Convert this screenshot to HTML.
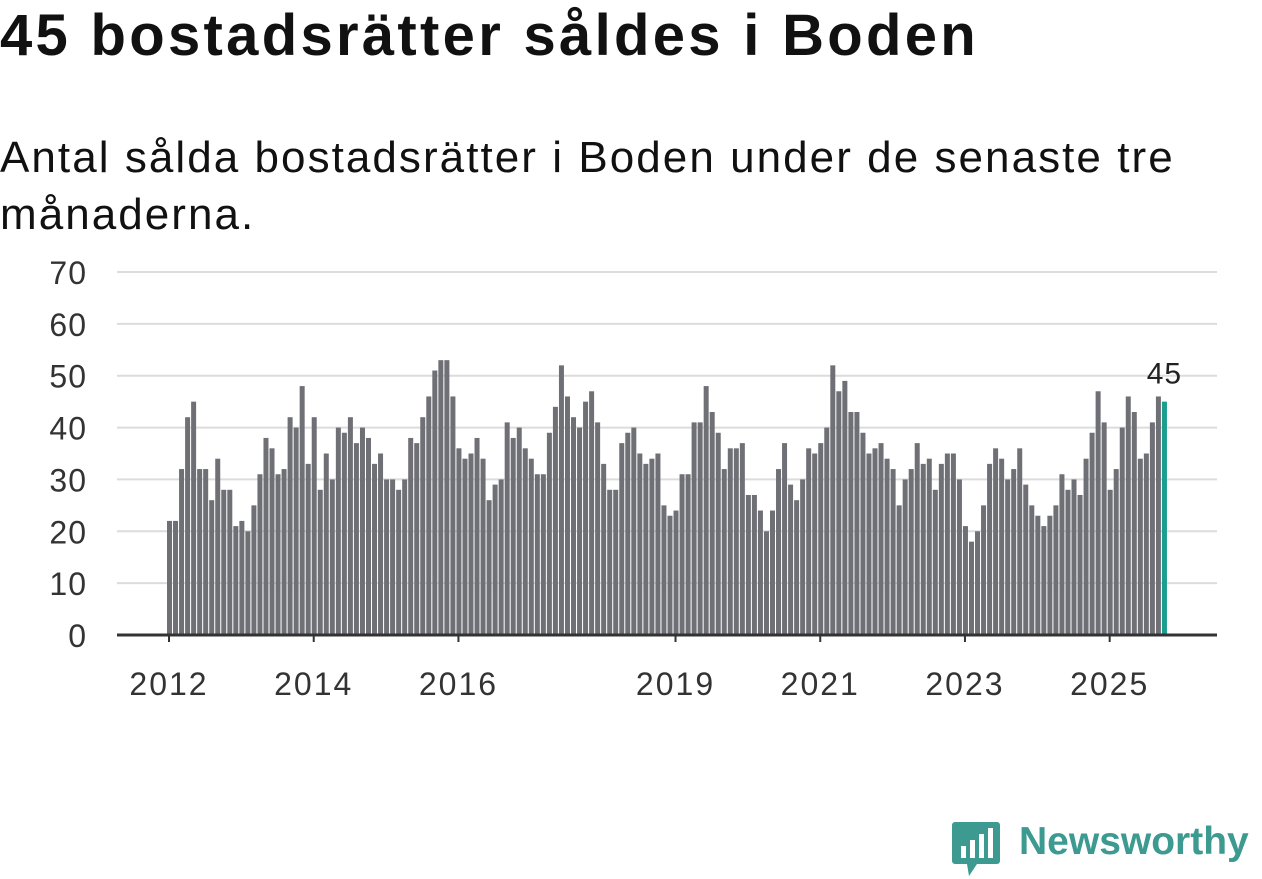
<!DOCTYPE html>
<html><head><meta charset="utf-8"><style>
body{margin:0;background:#fff;width:1262px;height:879px;overflow:hidden;font-family:"Liberation Sans",sans-serif;color:#111;}
h1{position:absolute;left:0;top:2px;margin:0;font-size:58px;font-weight:bold;letter-spacing:3.3px;white-space:nowrap;}
.sub{position:absolute;left:0;top:129px;margin:0;font-size:44px;line-height:57px;font-weight:normal;width:1220px;letter-spacing:2.05px;}
svg{position:absolute;left:0;top:0;}
</style></head><body>
<h1>45 bostadsrätter såldes i Boden</h1>
<p class="sub">Antal sålda bostadsrätter i Boden under de senaste tre månaderna.</p>
<svg id="chart" width="1262" height="879"></svg>
<script>
const values = [
22,22,32,42,45,32,32,26,34,28,28,21,
22,20,25,31,38,36,31,32,42,40,48,33,
42,28,35,30,40,39,42,37,40,38,33,35,
30,30,28,30,38,37,42,46,51,53,53,46,
36,34,35,38,34,26,29,30,41,38,40,36,
34,31,31,39,44,52,46,42,40,45,47,41,
33,28,28,37,39,40,35,33,34,35,25,23,
24,31,31,41,41,48,43,39,32,36,36,37,
27,27,24,20,24,32,37,29,26,30,36,35,
37,40,52,47,49,43,43,39,35,36,37,34,
32,25,30,32,37,33,34,28,33,35,35,30,
21,18,20,25,33,36,34,30,32,36,29,25,
23,21,23,25,31,28,30,27,34,39,47,41,
28,32,40,46,43,34,35,41,46,45];
const yTicks = [0,10,20,30,40,50,60,70];
const xLabels = [2012,2014,2016,2019,2021,2023,2025];
const startYear = 2012;
const NS="http://www.w3.org/2000/svg";
const svg=document.getElementById('chart');
const y=v=>635-v*(363/70);
const x=i=>167+i*6.03;
function mk(t,a){const e=document.createElementNS(NS,t);for(const k in a)e.setAttribute(k,a[k]);svg.appendChild(e);return e;}
yTicks.forEach(t=>{
  if(t>0){const g=mk('line',{x1:117,x2:1217,y1:y(t),y2:y(t),stroke:'#dcdcdc','stroke-width':2});
  
  }
  const l=mk('text',{x:87,y:y(t)+12,'text-anchor':'end','font-size':32,'letter-spacing':1,fill:'#333','font-family':'Liberation Sans, sans-serif'});
  l.textContent=t;
  
  
});
values.forEach((v,i)=>{
  const last=i===values.length-1;
  const r=mk('rect',{x:x(i),y:y(v),width:5,height:635-y(v),fill:last?'#1a9e8f':'#6f6f76'});
  
  
  if(last){const t=mk('text',{x:x(i)+2.5,y:y(v)-18,'text-anchor':'middle','font-size':30,'letter-spacing':1,fill:'#222','font-family':'Liberation Sans, sans-serif'});
  t.textContent=v;
  
  }
});
const ax=mk('line',{x1:117,x2:1217,y1:635,y2:635,stroke:'#333','stroke-width':3});


xLabels.forEach(yr=>{
  const xi=x((yr-startYear)*12)+2;
  const tk=mk('line',{x1:xi,x2:xi,y1:635,y2:642,stroke:'#333','stroke-width':2});
  
  
  const t=mk('text',{x:xi,y:695,'text-anchor':'middle','font-size':32,'letter-spacing':2,fill:'#333','font-family':'Liberation Sans, sans-serif'});
  t.textContent=yr;
  
  
});
</script>
<div style="position:absolute;left:951px;top:820px;display:flex;align-items:center;">
  <svg width="50" height="58" style="position:static">
    <path d="M4 2h42a3 3 0 0 1 3 3v36a3 3 0 0 1-3 3H26l-8 12-2-12H4a3 3 0 0 1-3-3V5a3 3 0 0 1 3-3z" fill="#3d9a90"/>
    <rect x="10" y="26" width="5" height="12" fill="#fff"/><rect x="19" y="20" width="5" height="18" fill="#fff"/><rect x="28" y="14" width="5" height="24" fill="#fff"/><rect x="37" y="8" width="5" height="30" fill="#fff"/>
  </svg>
  <span style="font-size:39px;font-weight:bold;color:#3d9a90;margin-left:18px;margin-top:-14px;">Newsworthy</span>
</div>
</body></html>
